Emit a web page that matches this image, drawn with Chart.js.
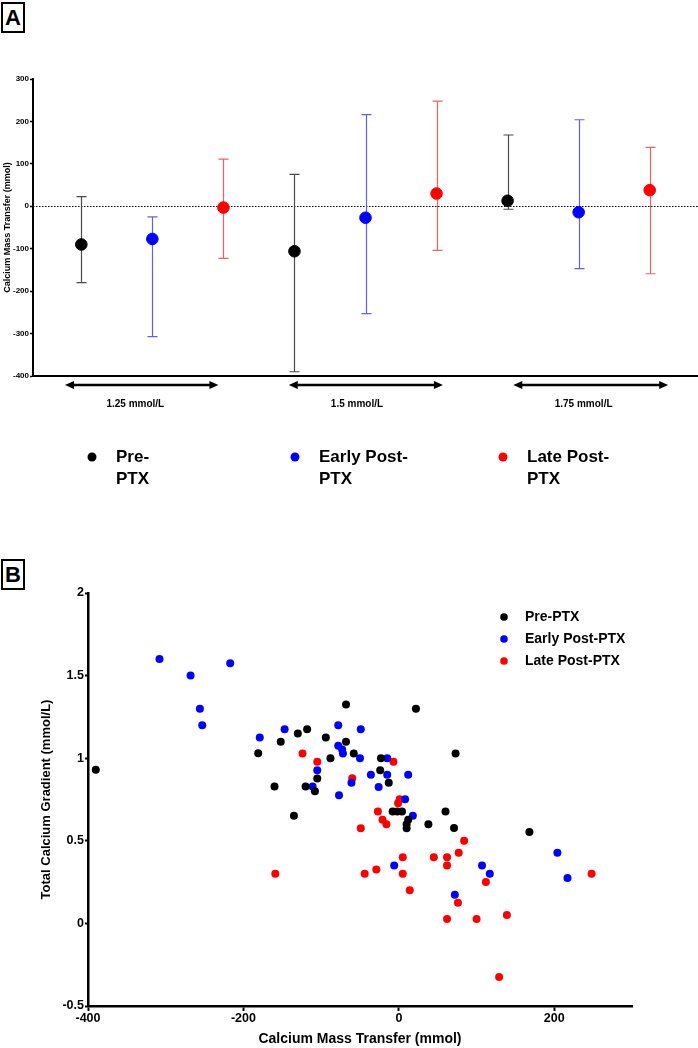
<!DOCTYPE html>
<html>
<head>
<meta charset="utf-8">
<script src="https://cdn.jsdelivr.net/npm/chart.js@4.4.0/dist/chart.umd.min.js"></script>
<style>
  body { margin:0; background:#fff; width:698px; height:1048px; position:relative; overflow:hidden; font-family:'Liberation Sans', Arial, sans-serif; }
  .tag { position:absolute; left:1px; width:20px; height:27px; border:2.5px solid #000; font-weight:bold; font-size:22px; text-align:center; line-height:28px; }
  #tagA { top:2px; }
  #tagB { top:559px; }
  #chartA { position:absolute; left:0; top:0; }
  #chartB { position:absolute; left:0; top:540px; }
</style>
</head>
<body>
<div class="tag" id="tagA">A</div>
<div class="tag" id="tagB">B</div>
<canvas id="chartA" width="698" height="520"></canvas>
<canvas id="chartB" width="698" height="508"></canvas>
<script>
const FONT = "'Liberation Sans', Arial, sans-serif";

// ---- data ----
const groups = ['Pre-PTX', 'Early Post-PTX', 'Late Post-PTX'];
const legendLinesA = [['Pre-', 'PTX'], ['Early Post-', 'PTX'], ['Late Post-', 'PTX']];
const concentrations = ['1.25 mmol/L', '1.5 mmol/L', '1.75 mmol/L'];

// panel A: mean and error range per concentration
const preMean = [-90, -106, 13];
const preHigh = [23, 75, 168];
const preLow = [-180, -390, -7];
const earlyMean = [-77, -27, -14];
const earlyHigh = [-25, 216, 204];
const earlyLow = [-307, -253, -147];
const lateMean = [-3, 30, 38];
const lateHigh = [111, 248, 139];
const lateLow = [-123, -104, -159];
const yTicksA = [-400, -300, -200, -100, 0, 100, 200, 300];

// panel B: mass transfer (x) vs gradient (y)
const preX = [-390, -181, -152, -130, -118, -94, -68, -68, -88, -105, -160, -120, -108, 22, -58, -23, 73, -24, -13, -135, -8, -2, 4, 10, 12, 10, 38, 60, 71, 168];
const preY = [0.93, 1.03, 1.10, 1.15, 1.175, 1.125, 1.325, 1.10, 1.0, 0.877, 0.828, 0.828, 0.80, 1.30, 1.028, 1.0, 1.028, 0.927, 0.851, 0.651, 0.677, 0.677, 0.677, 0.60, 0.627, 0.576, 0.60, 0.677, 0.577, 0.553];
const earlyX = [-308, -268, -217, -256, -253, -179, -147, -78, -78, -73, -72, -105, -111, -49, -50, -15, -36, -15, 12, -61, -26, -77, 8, 18, -6, 204, 107, 117, 217, 72];
const earlyY = [1.60, 1.50, 1.575, 1.30, 1.20, 1.125, 1.175, 1.20, 1.076, 1.052, 1.028, 0.927, 0.828, 1.175, 1.0, 1.0, 0.90, 0.90, 0.90, 0.851, 0.826, 0.776, 0.752, 0.651, 0.35, 0.427, 0.35, 0.30, 0.275, 0.174];
const lateX = [-124, -105, -7, -60, 1, -1, -27, -21, -16, -49, 84, 5, 45, 62, 77, 62, -159, -44, -29, 5, 14, 112, 248, 76, 62, 100, 139, 129];
const lateY = [1.028, 0.978, 0.978, 0.879, 0.752, 0.727, 0.677, 0.627, 0.60, 0.576, 0.50, 0.40, 0.40, 0.40, 0.427, 0.351, 0.30, 0.30, 0.326, 0.30, 0.20, 0.25, 0.30, 0.125, 0.026, 0.026, 0.051, -0.324];
const xTicksB = [-400, -200, 0, 200];
const yTicksB = [-0.5, 0, 0.5, 1, 1.5, 2];

const meansA = [preMean, earlyMean, lateMean];
const highA = [preHigh, earlyHigh, lateHigh];
const lowA = [preLow, earlyLow, lateLow];
const xsB = [preX, earlyX, lateX];
const ysB = [preY, earlyY, lateY];

const colors = ['#000000', '#0000ff', '#ff0000'];
const barColors = ['#4a4a4a', '#6060f0', '#f06060'];

// ---- panel A extras: zero line, error bars, arrows, legend ----
const panelA = {
  id: 'panelA',
  beforeDatasetsDraw(chart) {
    const {ctx, chartArea, scales: {x, y}} = chart;
    ctx.save();
    const y0 = Math.round(y.getPixelForValue(0)) + 0.5;
    ctx.setLineDash([1.5, 1.5]);
    ctx.strokeStyle = '#000';
    ctx.lineWidth = 1;
    ctx.beginPath();
    ctx.moveTo(chartArea.left, y0);
    ctx.lineTo(chartArea.right, y0);
    ctx.stroke();
    ctx.setLineDash([]);
    groups.forEach((name, s) => {
      ctx.strokeStyle = barColors[s];
      ctx.lineWidth = 1.2;
      highA[s].forEach((hi, g) => {
        const px = Math.round(x.getPixelForValue(g * 3 + s)) + 0.5;
        const top = y.getPixelForValue(hi);
        const bot = y.getPixelForValue(lowA[s][g]);
        ctx.beginPath();
        ctx.moveTo(px, top); ctx.lineTo(px, bot);
        ctx.moveTo(px - 5, top); ctx.lineTo(px + 5, top);
        ctx.moveTo(px - 5, bot); ctx.lineTo(px + 5, bot);
        ctx.stroke();
      });
    });
    ctx.restore();
  },
  afterDraw(chart) {
    const {ctx, chartArea, scales: {x}} = chart;
    const spans = [[-0.23, 1.93], [2.92, 5.09], [6.08, 8.26]];
    const labelAt = [0.76, 3.88, 7.07];
    const ay = chartArea.bottom + 9;
    ctx.save();
    ctx.fillStyle = '#000';
    ctx.strokeStyle = '#000';
    concentrations.forEach((c, g) => {
      const x1 = x.getPixelForValue(spans[g][0]);
      const x2 = x.getPixelForValue(spans[g][1]);
      ctx.lineWidth = 2.5;
      ctx.beginPath();
      ctx.moveTo(x1 + 6, ay); ctx.lineTo(x2 - 6, ay);
      ctx.stroke();
      ctx.beginPath();
      ctx.moveTo(x1, ay); ctx.lineTo(x1 + 9, ay - 4); ctx.lineTo(x1 + 9, ay + 4); ctx.closePath();
      ctx.moveTo(x2, ay); ctx.lineTo(x2 - 9, ay - 4); ctx.lineTo(x2 - 9, ay + 4); ctx.closePath();
      ctx.fill();
      ctx.font = 'bold 10px ' + FONT;
      ctx.textAlign = 'center';
      ctx.textBaseline = 'middle';
      ctx.fillText(c, x.getPixelForValue(labelAt[g]), ay + 19);
    });
    // legend
    const dotX = [92, 295, 503];
    const ly = chartArea.bottom + 81;
    ctx.font = 'bold 17px ' + FONT;
    ctx.textAlign = 'left';
    legendLinesA.forEach((lines, s) => {
      ctx.fillStyle = colors[s];
      ctx.beginPath();
      ctx.arc(dotX[s], ly, 4.5, 0, Math.PI * 2);
      ctx.fill();
      ctx.fillStyle = '#000';
      lines.forEach((t, i) => ctx.fillText(t, dotX[s] + 24, ly + i * 22));
    });
    ctx.restore();
  }
};

new Chart(document.getElementById('chartA'), {
  type: 'scatter',
  data: {
    datasets: groups.map((name, s) => ({
      label: name,
      data: meansA[s].map((m, g) => ({x: g * 3 + s, y: m})),
      backgroundColor: colors[s],
      borderColor: colors[s],
      pointRadius: 5.8,
      pointHoverRadius: 5.8
    }))
  },
  options: {
    responsive: false,
    animation: false,
    layout: {autoPadding: false, padding: {top: 79, left: 0, right: 0, bottom: 0}},
    plugins: {legend: {display: false}, tooltip: {enabled: false}},
    scales: {
      x: {
        type: 'linear', min: -0.68, max: 8.68,
        ticks: {display: false},
        grid: {display: false},
        border: {color: '#000', width: 2},
        afterFit: s => { s.height = 144; }
      },
      y: {
        min: -400, max: 300,
        afterBuildTicks: s => { s.ticks = yTicksA.map(v => ({value: v})); },
        ticks: {color: '#000', font: {size: 8, weight: 'bold', family: FONT}, padding: 1, callback: v => String(v)},
        grid: {drawOnChartArea: false, color: '#000', tickLength: 3, tickWidth: 1.5},
        border: {color: '#000', width: 2},
        title: {display: true, text: 'Calcium Mass Transfer (mmol)', color: '#000',
                font: {size: 9, weight: 'bold', family: FONT}, padding: {top: 2, bottom: 0}},
        afterFit: s => { s.width = 33; }
      }
    }
  },
  plugins: [panelA]
});

// ---- panel B legend ----
const legendB = {
  id: 'legendB',
  afterDraw(chart) {
    const {ctx, chartArea} = chart;
    ctx.save();
    ctx.font = 'bold 14px ' + FONT;
    ctx.textAlign = 'left';
    ctx.textBaseline = 'middle';
    groups.forEach((name, s) => {
      const ly = chartArea.top + 24 + s * 22;
      ctx.fillStyle = colors[s];
      ctx.beginPath();
      ctx.arc(chartArea.left + 416, ly, 3.8, 0, Math.PI * 2);
      ctx.fill();
      ctx.fillStyle = '#000';
      ctx.fillText(name, chartArea.left + 437, ly);
    });
    ctx.restore();
  }
};

new Chart(document.getElementById('chartB'), {
  type: 'scatter',
  data: {
    datasets: groups.map((name, s) => ({
      label: name,
      data: xsB[s].map((v, i) => ({x: v, y: ysB[s][i]})),
      backgroundColor: colors[s],
      borderColor: colors[s],
      pointRadius: 4,
      pointHoverRadius: 4,
      borderWidth: 0
    }))
  },
  options: {
    responsive: false,
    animation: false,
    layout: {autoPadding: false, padding: {top: 53, left: 0, right: 66, bottom: 0}},
    plugins: {legend: {display: false}, tooltip: {enabled: false}},
    scales: {
      x: {
        type: 'linear', min: -400, max: 300,
        afterBuildTicks: s => { s.ticks = xTicksB.map(v => ({value: v})); },
        ticks: {color: '#000', font: {size: 12.5, weight: 'bold', family: FONT}, padding: 0, maxRotation: 0, callback: v => String(v)},
        grid: {drawOnChartArea: false, color: '#000', tickLength: 5, tickWidth: 2},
        border: {color: '#000', width: 2.5},
        title: {display: true, text: 'Calcium Mass Transfer (mmol)', color: '#000',
                font: {size: 14, weight: 'bold', family: FONT}, padding: {top: 5, bottom: 0}},
        afterFit: s => { s.height = 42; }
      },
      y: {
        min: -0.5, max: 2,
        afterBuildTicks: s => { s.ticks = yTicksB.map(v => ({value: v})); },
        ticks: {color: '#000', font: {size: 12.5, weight: 'bold', family: FONT}, padding: 1, callback: v => String(v)},
        grid: {drawOnChartArea: false, color: '#000', tickLength: 3, tickWidth: 2},
        border: {color: '#000', width: 2.5},
        title: {display: true, text: 'Total Calcium Gradient (mmol/L)', color: '#000',
                font: {size: 13, weight: 'bold', family: FONT}, padding: {top: 39, bottom: 0}},
        afterFit: s => { s.width = 88; }
      }
    }
  },
  plugins: [legendB]
});
</script>
</body>
</html>
